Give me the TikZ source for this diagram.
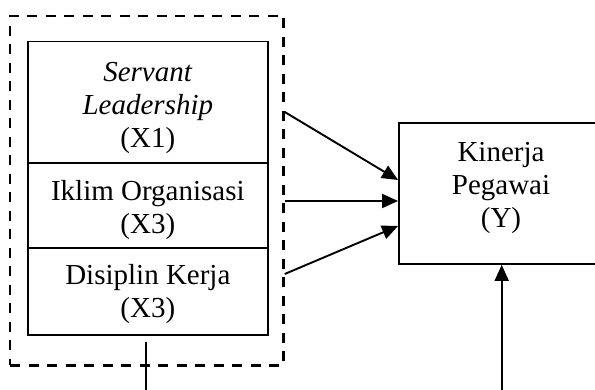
\documentclass[tikz,border=0pt]{standalone}
\usepackage{fontspec}
\setmainfont{Liberation Serif}
\usepackage{tikz}
\usetikzlibrary{shapes,arrows.meta,positioning}

\begin{document}
\begin{tikzpicture}[x=1pt,y=1pt,yscale=-1,xscale=1,
  box/.style={draw, rectangle, line width=1.9pt, minimum width=239.7pt, inner sep=0pt},
  lbl/.style={align=center, inner sep=0pt, font=\fontsize{29}{33}\selectfont},
  arr/.style={line width=1.9pt, -{Triangle[length=16pt,width=14pt]}}]
\useasboundingbox (0,0) rectangle (595,390);

%Shape: Rectangle [dashed frame]
\node [draw, rectangle, line width=2.5pt, dash pattern=on 10pt off 8.5pt, minimum width=273.5pt, minimum height=349.5pt, inner sep=0pt] (frame) at (146.75,190.75) {};
%Shape: Rectangle
\node [box, minimum height=121.3pt] (sl) at (147.85,102.2) {};
%Shape: Rectangle
\node [box, minimum height=85.6pt] (io) at (147.85,205.5) {};
%Shape: Rectangle
\node [box, minimum height=86.7pt] (dk) at (147.85,291.65) {};
%Shape: Rectangle
\node [box, minimum width=204pt, minimum height=140.7pt] (kp) at (501,193.6) {};

% Text Node
\node [lbl] (sltext) at (147.85,108) {\textit{Servant}\\\textit{Leadership}\\(X1)};
% Text Node
\node [lbl] (iotext) at (147.85,210) {Iklim Organisasi\\(X3)};
% Text Node
\node [lbl] (dktext) at (147.85,294.5) {Disiplin Kerja\\(X3)};
% Text Node
\node [lbl] (kptext) at (501,188.3) {Kinerja\\Pegawai\\(Y)};

%Straight Lines
\draw [arr] (frame.east |- 0,112) -- (kp.west |- 0,180);
\draw [arr] (frame.east |- 0,201) -- (kp.west |- 0,201);
\draw [arr] (frame.east |- 0,274) -- (kp.west |- 0,226);

%Straight Lines
\coordinate (dkin) at (145.7,342);
\coordinate (dkout) at (145.7,395);
\draw [line width=1.9pt] (dkin) -- (dkout);
\coordinate (kpin) at (501.7,395);
\draw [arr] (kpin) -- (kpin |- kp.south);

\end{tikzpicture}
\end{document}
